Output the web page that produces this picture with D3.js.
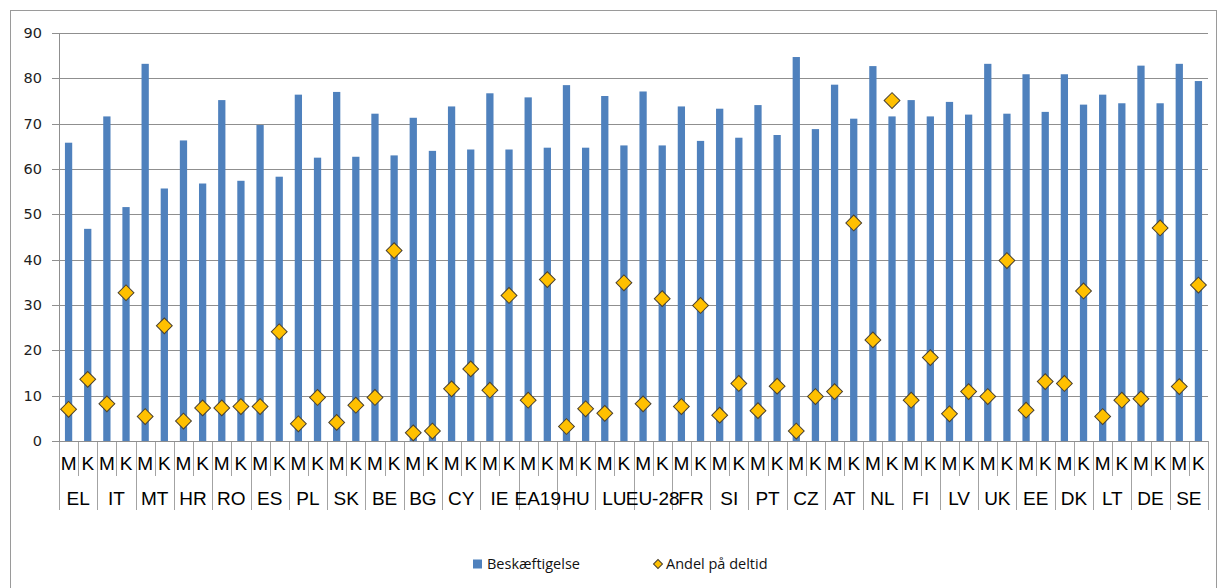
<!DOCTYPE html>
<html>
<head>
<meta charset="utf-8">
<script src="https://cdn.jsdelivr.net/npm/d3@7/dist/d3.min.js"></script>
<style>
  html, body { margin: 0; padding: 0; background: #fff; }
  svg { display: block; }
</style>
</head>
<body>
<svg id="chart" width="1217" height="588"></svg>
<script>
// Countries (outer category level) and gender (inner level: M = mænd, K = kvinder)
const countries = ["EL","IT","MT","HR","RO","ES","PL","SK","BE","BG","CY","IE","EA19","HU","LU",
                   "EU-28","FR","SI","PT","CZ","AT","NL","FI","LV","UK","EE","DK","LT","DE","SE"];
const genders = ["M","K"];

// Beskæftigelse (employment rate, %)
const employmentM = [65.8,71.6,83.2,66.3,75.2,69.7,76.4,77.0,72.2,71.3,73.8,76.7,75.8,78.5,76.1,
                     77.1,73.8,73.3,74.1,84.7,78.6,82.7,75.2,74.8,83.2,80.9,80.9,76.4,82.8,83.2];
const employmentK = [46.8,51.6,55.7,56.8,57.4,58.3,62.5,62.7,63.0,64.0,64.3,64.3,64.7,64.7,65.2,
                     65.2,66.2,66.9,67.5,68.8,71.1,71.6,71.6,72.0,72.2,72.6,74.2,74.5,74.5,79.4];

// Andel på deltid (part-time share, %)
const parttimeM = [7.0,8.2,5.4,4.4,7.3,7.6,3.8,4.1,9.6,1.8,11.5,11.2,9.0,3.2,6.1,
                   8.2,7.6,5.7,6.7,2.2,10.9,22.3,9.0,6.0,9.8,6.8,12.7,5.4,9.3,12.0];
const parttimeK = [13.6,32.7,25.4,7.3,7.6,24.1,9.6,7.9,42.0,2.2,15.9,32.1,35.6,7.1,34.9,
                   31.4,29.9,12.7,12.1,9.8,48.1,75.1,18.4,10.9,39.8,13.1,33.1,9.0,47.0,34.4];

const yTicks = [0,10,20,30,40,50,60,70,80,90];
const seriesNames = ["Beskæftigelse","Andel på deltid"];

// Flatten to one row per (country, gender) category
const rows = [];
countries.forEach((c, i) => {
  rows.push({country: c, gender: genders[0], key: c + "|M", emp: employmentM[i], pt: parttimeM[i]});
  rows.push({country: c, gender: genders[1], key: c + "|K", emp: employmentK[i], pt: parttimeK[i]});
});

const svg = d3.select("#chart");
const plot = {left: 59, right: 1208, top: 33, bottom: 441};

const BAR = "#4F81BD", DIAMOND = "#FFC000", GRID = "#8f8f8f", SEP = "#a3a3a3";

// Outer chart frame
svg.append("rect")
  .attr("x", 10.5).attr("y", 10.5).attr("width", 1206).attr("height", 600)
  .attr("fill", "#fff").attr("stroke", "#9a9a9a").attr("stroke-width", 1);

const y = d3.scaleLinear().domain([0, 90]).range([plot.bottom, plot.top]);
const x = d3.scaleBand().domain(rows.map(d => d.key))
  .range([plot.left, plot.right]).paddingInner(0.62).paddingOuter(0.31);
const xc = d3.scaleBand().domain(countries).range([plot.left, plot.right]);

// Y axis with gridlines
const yAxis = svg.append("g")
  .attr("transform", `translate(${plot.left - 7},0)`)
  .call(d3.axisLeft(y).tickValues(yTicks).tickSizeInner(-(plot.right - plot.left + 7))
        .tickSizeOuter(0).tickPadding(10));
yAxis.select(".domain").remove();
yAxis.selectAll(".tick line").attr("stroke", GRID).attr("stroke-width", 1)
  .attr("shape-rendering", "crispEdges");
yAxis.selectAll(".tick text")
  .attr("font-family", "'DejaVu Sans', sans-serif").attr("font-size", 14.5).attr("fill", "#1e1e1e");

// Vertical value axis line
svg.append("line")
  .attr("x1", plot.left + 0.5).attr("x2", plot.left + 0.5)
  .attr("y1", plot.top).attr("y2", plot.bottom)
  .attr("stroke", GRID).attr("stroke-width", 1);

// Bars: Beskæftigelse
svg.append("g").selectAll("rect").data(rows).join("rect")
  .attr("x", d => x(d.key)).attr("width", x.bandwidth())
  .attr("y", d => y(d.emp)).attr("height", d => y(0) - y(d.emp))
  .attr("fill", BAR);

// Category separators below the axis: short between M|K, long between countries
const step = x.step();
const sepG = svg.append("g").attr("stroke", SEP).attr("stroke-width", 1).attr("shape-rendering", "crispEdges");
d3.range(rows.length + 1).forEach(i => {
  const xx = Math.round(plot.left + i * step) + 0.5;
  const isCountry = i % 2 === 0;
  sepG.append("line").attr("x1", xx).attr("x2", xx)
    .attr("y1", plot.bottom).attr("y2", isCountry ? 510 : 476);
});

// Inner level labels (M / K)
const xAxisInner = svg.append("g")
  .attr("transform", `translate(0,${plot.bottom})`)
  .call(d3.axisBottom(x).tickSize(0).tickPadding(0).tickFormat(k => k.split("|")[1]));
xAxisInner.select(".domain").remove();
xAxisInner.selectAll(".tick text")
  .attr("y", 22).attr("dy", "0.35em")
  .attr("font-family", "'Liberation Sans', Arial, sans-serif").attr("font-size", 19).attr("fill", "#000");

// Outer level labels (countries)
const xAxisOuter = svg.append("g")
  .attr("transform", `translate(0,${plot.bottom})`)
  .call(d3.axisBottom(xc).tickSize(0).tickPadding(0));
xAxisOuter.select(".domain").remove();
xAxisOuter.selectAll(".tick text")
  .attr("y", 57).attr("dy", "0.35em")
  .attr("font-family", "'Liberation Sans', Arial, sans-serif").attr("font-size", 19).attr("fill", "#000");

// Category axis line
svg.append("line")
  .attr("x1", plot.left - 7).attr("x2", plot.right)
  .attr("y1", plot.bottom + 0.5).attr("y2", plot.bottom + 0.5)
  .attr("stroke", GRID).attr("stroke-width", 1);

// Diamonds: Andel på deltid
const diamond = d3.symbol().type(d3.symbolSquare).size(125);
svg.append("g").selectAll("path").data(rows).join("path")
  .attr("d", diamond)
  .attr("transform", d => `translate(${x(d.key) + x.bandwidth() / 2},${y(d.pt)}) rotate(45)`)
  .attr("fill", DIAMOND).attr("stroke", "#4a4030").attr("stroke-width", 1);

// Legend
const legend = svg.append("g").attr("font-family", "'Open Sans', sans-serif").attr("font-size", 14.5).attr("fill", "#111");
legend.append("rect").attr("x", 473).attr("y", 559.5).attr("width", 9).attr("height", 9).attr("fill", BAR);
legend.append("text").attr("x", 487).attr("y", 564).attr("dy", "0.35em").text(seriesNames[0]);
legend.append("path").attr("d", d3.symbol().type(d3.symbolSquare).size(40))
  .attr("transform", "translate(658,564) rotate(45)")
  .attr("fill", DIAMOND).attr("stroke", "#4a4030").attr("stroke-width", 1);
legend.append("text").attr("x", 666).attr("y", 564).attr("dy", "0.35em").text(seriesNames[1]);
</script>
</body>
</html>
